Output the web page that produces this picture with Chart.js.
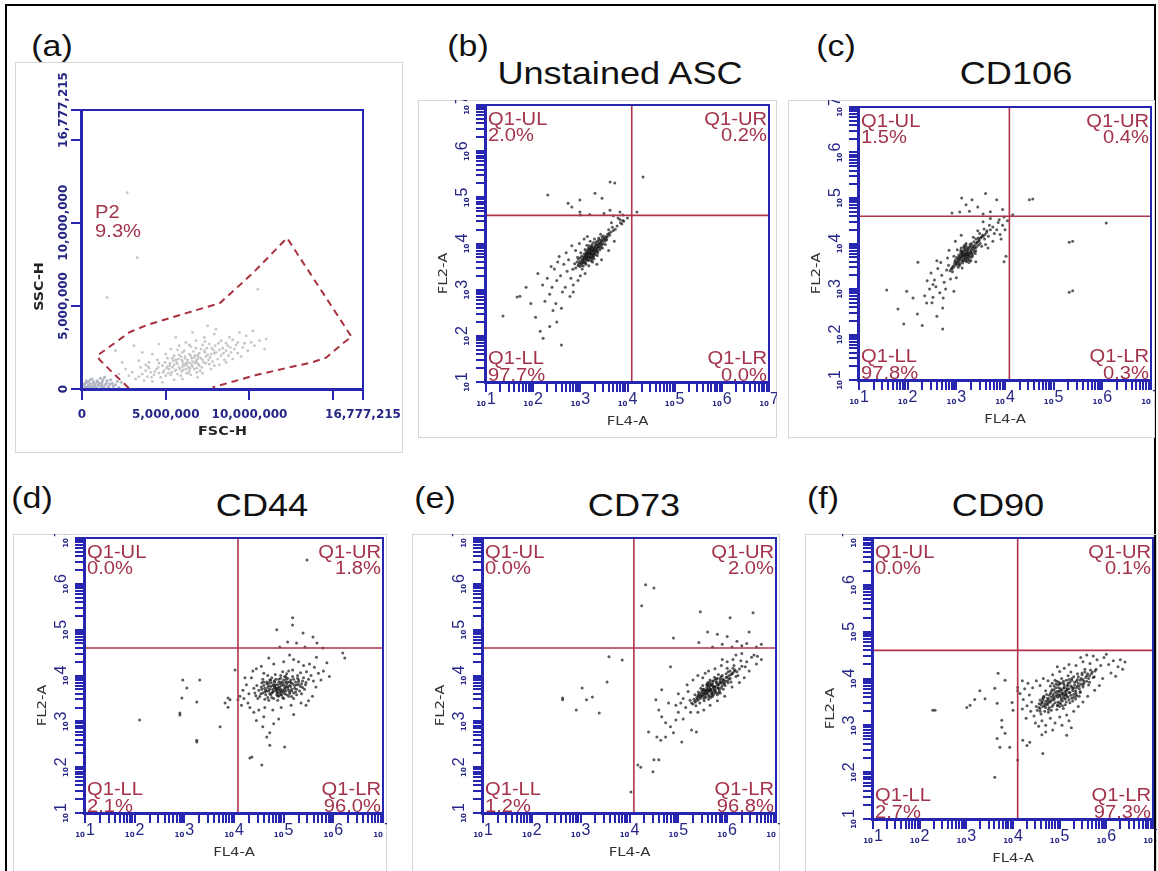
<!DOCTYPE html>
<html>
<head>
<meta charset="utf-8">
<script src="https://cdn.jsdelivr.net/npm/chart.js@4.4.1/dist/chart.umd.min.js"></script>
<style>
  body { margin: 0; width: 1158px; height: 871px; background: #fff; position: relative; overflow: hidden;
         font-family: "Liberation Sans", Arial, sans-serif; }
  #border { position: absolute; left: 5px; top: 4px; width: 1151px; height: 900px; border: 2px solid #000; box-sizing: border-box; }
  .frame { position: absolute; border: 1px solid #d6d6d6; box-sizing: border-box; }
  .frame.open { border-bottom: none; }
  canvas { position: absolute; }
  .tag, .title { position: absolute; white-space: nowrap; color: #111; line-height: 1;
                 transform: translate(-50%, -50%) scaleX(1.13); }
  .tag { font-size: 30px; }
  .title { font-size: 32px; }
</style>
</head>
<body>
<div id="border"></div>
<script>
// ---- data ----
const decades = [1, 2, 3, 4, 5, 6, 7];
const fscTicks = [0, 5e6, 1e7, 1.5e7, 16777215];
const fscTickLabels = ['0', '5,000,000', '10,000,000', '', '16,777,215'];

const panelTags = ['(a)', '(b)', '(c)', '(d)', '(e)', '(f)'];
const panelTitles = ['', 'Unstained ASC', 'CD106', 'CD44', 'CD73', 'CD90'];

// quadrant gates, log10 units
const gateFL4 = [4.09, 4.09, 4.08, 4.09, 4.10];
const gateFL2 = [4.61, 4.60, 4.60, 4.60, 4.60];
const pctUL = ['2.0%', '1.5%', '0.0%', '0.0%', '0.0%'];
const pctUR = ['0.2%', '0.4%', '1.8%', '2.0%', '0.1%'];
const pctLL = ['97.7%', '97.8%', '2.1%', '1.2%', '2.7%'];
const pctLR = ['0.0%', '0.3%', '96.0%', '96.8%', '97.3%'];

// P2 gate on FSC-H / SSC-H, millions
const gateFsc = [2.8, 1.85, 1.07, 0.9, 2.87, 3.88, 6.45, 8.24, 10.2, 12.24, 16.1, 15.6, 14.6, 13.8, 12.2, 10.4, 7.8];
const gateSsc = [0.05, 0.96, 1.74, 2.0, 3.43, 3.85, 4.63, 5.17, 6.97, 9.08, 3.13, 2.77, 1.9, 1.62, 1.26, 0.84, 0.1];
const p2Label = ['P2', '9.3%'];
const p2LabelAt = [0.78, 10.3];

// FSC-H, SSC-H events (millions)
const fscSscEvents = [
  [6.45,1.56],[6.10,1.40],[6.80,1.70],[5.80,1.30],[7.10,1.85],[6.30,1.75],[6.60,1.35],[5.50,1.45],[7.40,1.95],[6.00,1.65],
  [6.95,1.50],[5.20,1.20],[7.70,2.10],[6.20,1.20],[6.70,1.90],[5.65,1.60],[7.25,1.60],[5.95,1.05],[8.00,2.20],[6.50,2.00],
  [5.35,1.00],[7.55,1.75],[6.85,1.25],[6.15,1.85],[4.90,1.10],[8.30,2.00],[5.75,1.80],[7.00,2.15],[6.40,1.10],[4.60,0.95],
  [7.85,2.35],[5.45,1.70],[6.75,1.55],[6.05,1.50],[8.60,2.30],[5.10,1.35],[7.30,2.30],[6.55,1.45],[4.30,0.85],[8.10,1.80],
  [5.90,1.95],[7.60,1.50],[6.25,0.95],[4.80,1.40],[8.85,2.50],[5.60,1.15],[7.15,1.30],[6.90,2.05],[4.45,1.20],[7.95,2.60],
  [5.25,1.55],[6.65,2.25],[5.00,0.80],[8.40,2.45],[6.35,1.30],[7.45,2.45],[5.70,0.90],[4.10,1.00],[8.75,2.00],[6.00,2.20],
  [7.80,1.65],[5.40,1.85],[6.85,1.00],[4.70,0.70],[9.10,2.40],[5.15,0.95],[7.20,2.65],[6.50,0.85],[3.90,0.75],[8.50,1.75],
  [6.30,1.60],[6.60,1.65],[6.00,1.35],[6.90,1.80],[5.70,1.50],[7.20,1.75],[6.45,1.25],[6.15,1.95],[7.00,1.40],[5.85,1.20],
  [6.75,2.00],[5.40,1.30],[7.50,2.05],[6.25,1.45],[6.55,1.85],[5.95,1.75],[7.35,2.20],[6.05,1.15],[6.85,1.60],[5.55,1.10],
  [7.65,1.90],[6.40,2.10],[5.25,1.40],[7.10,2.40],[6.70,1.20],[5.80,2.05],[7.90,2.15],[6.20,1.55],[5.05,1.25],[8.20,2.35],
  [6.95,1.95],[5.60,1.75],[7.40,1.55],[6.35,0.95],[4.85,1.00],[8.45,2.15],[6.10,2.30],[7.75,2.45],[5.30,0.85],[6.80,2.45],
  [4.55,1.30],[8.70,2.60],[5.90,0.80],[7.05,1.10],[6.50,2.55],[4.95,1.60],[8.90,2.20],[5.50,2.00],[7.60,2.70],[4.35,1.05],
  [3.60,0.90],[3.80,1.10],[4.00,1.25],[4.15,0.70],[3.40,0.75],[9.20,2.65],[9.00,2.95],[8.15,2.75],[7.35,2.85],[6.40,2.65],
  [5.70,2.35],[5.10,1.85],[4.60,1.55],[3.95,1.35],[9.70,2.75],[10.10,2.80],[9.30,2.15],[8.60,1.60],[7.90,1.40],[7.20,0.95],
  [3.20,0.60],[3.50,1.30],[3.00,1.00],[3.70,0.50],[2.80,0.80],[3.40,1.70],[4.00,1.60],[4.20,0.45],[3.80,1.45],[2.60,1.20],
  [4.50,1.75],[5.00,2.10],[5.30,2.40],[5.80,2.60],[6.20,2.80],[6.80,2.90],[7.30,3.10],[7.90,3.30],[8.30,2.90],[8.80,3.10],
  [9.30,2.80],[9.60,2.50],[9.90,2.30],[10.30,2.60],[10.60,2.90],[9.40,3.40],[9.00,1.80],[9.50,1.95],[8.20,1.45],[7.70,1.20],
  [6.90,0.70],[6.00,0.60],[5.50,0.55],[4.80,0.40],[4.20,2.10],[3.60,2.20],[2.40,1.60],[2.20,0.90],[2.00,2.30],[10.90,2.40],
  [8.00,3.60],[7.50,3.80],[6.60,3.40],[5.60,3.10],[4.60,2.70],[9.80,3.20],[10.20,3.50],[8.60,2.75],[3.10,2.60],[11.00,3.00],
  [2.70,11.8],[3.30,7.90],[10.5,6.00],[1.50,5.50]
];
const debrisEvents = [
  [0.20,0.10],[0.40,0.25],[0.60,0.15],[0.30,0.40],[0.80,0.30],[1.00,0.20],[0.50,0.55],[1.20,0.40],[0.70,0.05],[1.40,0.25],
  [0.90,0.50],[1.60,0.15],[0.15,0.30],[1.10,0.65],[1.80,0.35],[0.35,0.08],[1.30,0.10],[2.00,0.25],[0.65,0.35],[1.50,0.50],
  [2.20,0.10],[0.85,0.12],[1.70,0.55],[0.45,0.20],[1.05,0.35],[1.90,0.05],[0.25,0.50],[1.35,0.70],[2.35,0.40],[0.55,0.05],
  [0.30,0.15],[0.50,0.30],[0.75,0.20],[0.95,0.40],[1.15,0.15],[1.25,0.55],[0.40,0.45],[0.60,0.60],[1.45,0.35],[1.65,0.30],
  [0.10,0.20],[0.80,0.08],[1.00,0.28],[1.85,0.20],[2.10,0.45],[0.20,0.35],[0.70,0.45],[1.55,0.08],[0.45,0.10],[1.20,0.25]
];

// FL4-A, FL2-A events as log10 values
const unstainedEvents = [
  [3.21,3.80],[3.15,3.76],[3.26,3.84],[3.18,3.71],[3.30,3.88],[3.09,3.70],[3.24,3.92],[3.35,3.90],[3.12,3.82],[3.05,3.64],
  [3.28,3.78],[3.19,3.86],[3.38,3.96],[3.02,3.58],[3.22,3.69],[3.33,3.99],[3.14,3.66],[3.42,4.02],[2.97,3.55],[3.27,3.73],
  [3.17,3.90],[3.36,3.84],[3.08,3.77],[3.45,4.08],[2.93,3.60],[3.31,3.95],[3.23,3.62],[3.11,3.59],[3.40,3.92],[3.50,4.10],
  [3.00,3.69],[3.25,3.98],[3.13,3.74],[3.29,3.67],[3.06,3.51],[3.48,4.00],[3.20,3.88],[3.37,4.06],[2.90,3.47],[3.16,3.63],
  [3.55,4.15],[3.03,3.73],[3.34,3.82],[3.44,3.95],[2.96,3.66],[3.10,3.87],[3.58,4.20],[3.26,3.60],[3.39,4.12],[3.19,3.95],
  [2.88,3.56],[3.62,4.18],[3.07,3.62],[3.32,3.76],[3.46,4.14],[3.14,3.96],[2.99,3.50],[3.52,4.05],[3.23,3.86],[3.65,4.25],
  [3.01,3.80],[3.41,3.86],[3.28,4.02],[3.70,4.28],[2.84,3.44],[3.12,3.55],[3.56,4.08],[3.36,3.74],[3.68,4.35],[3.74,4.31],
  [3.04,3.45],[3.47,3.90],[3.21,4.05],[2.94,3.70],[3.60,4.30],[3.78,4.38],[3.43,4.20],[3.18,3.52],[3.30,4.10],[3.53,3.98],
  [3.22,3.78],[3.17,3.82],[3.27,3.86],[3.13,3.72],[3.32,3.92],[3.08,3.66],[3.20,3.74],[3.25,3.70],[3.15,3.79],[3.29,3.84],
  [3.11,3.68],[3.35,3.97],[3.19,3.77],[3.24,3.81],[3.06,3.60],[3.38,3.93],[3.14,3.71],[3.30,3.79],[3.21,3.85],[3.04,3.57],
  [3.41,3.99],[3.16,3.68],[3.26,3.89],[3.10,3.75],[3.33,3.86],[3.23,3.75],[3.01,3.62],[3.44,4.04],[3.18,3.80],[3.28,3.72],
  [3.12,3.64],[3.36,3.88],[3.20,3.70],[3.47,4.06],[3.09,3.58],[3.31,3.83],[3.24,3.94],[2.98,3.59],[3.39,4.00],[3.15,3.86],
  [3.51,4.12],[3.27,3.76],[3.05,3.67],[3.43,3.90],[3.19,3.64],[3.34,4.03],[3.54,4.09],[3.02,3.53],[3.37,3.80],[3.22,3.90],
  [3.57,4.14],[3.13,3.79],[3.46,3.98],[3.29,3.91],[2.95,3.52],[3.61,4.22],[3.25,3.66],[3.40,4.08],[3.07,3.71],[3.49,4.16],
  [2.72,3.40],[2.65,3.55],[2.80,3.25],[2.58,3.30],[2.75,3.65],[2.50,3.20],[2.68,3.05],[2.85,3.10],[2.45,3.45],[2.62,2.95],
  [2.40,3.05],[2.90,3.85],[2.55,3.72],[3.00,3.30],[2.78,2.85],[2.35,2.90],[2.95,3.20],[3.10,3.35],[2.70,3.80],[2.48,2.70],
  [2.30,3.25],[2.60,2.60],[2.85,2.95],[3.15,4.15],[2.98,4.00],[3.85,4.45],[3.72,4.05],[3.90,4.50],[3.60,3.85],[3.45,3.65],
  [2.25,2.75],[2.52,3.60],[2.42,2.55],[3.08,4.10],[3.80,4.55],[3.66,4.45],[2.20,3.10],[2.82,3.95],[2.38,3.50],[3.35,3.55],
  [1.66,2.84],[1.72,2.86],[1.36,2.43],[2.21,1.95],[2.05,2.40],[1.95,2.70],[2.15,2.10],[2.35,2.20],[2.10,3.35],[1.85,3.05],
  [2.50,2.30],[2.60,1.80],
  [2.31,5.05],[3.63,5.33],[4.33,5.44],[2.99,4.94],[2.74,4.87],[3.31,5.09],[3.46,4.98],[3.73,5.31],[2.99,4.68],[2.82,4.79],
  [3.63,4.72],[3.84,4.68],[4.20,4.68],[3.00,4.62],[3.20,4.63],[3.50,4.65],[3.70,4.60],[3.90,4.62],[3.84,4.52],[3.92,4.48],
  [4.00,4.55],[3.88,4.42]
];
const cd106Events = [
  [3.17,3.75],[3.12,3.70],[3.22,3.80],[3.08,3.72],[3.25,3.74],[3.15,3.83],[3.20,3.66],[3.03,3.62],[3.30,3.86],[3.11,3.78],
  [3.27,3.92],[3.00,3.58],[3.19,3.71],[3.34,3.95],[3.06,3.66],[3.23,3.86],[3.14,3.62],[3.38,3.90],[2.96,3.55],[3.29,3.80],
  [3.09,3.84],[3.42,4.02],[3.18,3.90],[2.93,3.50],[3.33,3.76],[3.05,3.75],[3.46,4.08],[3.24,3.68],[2.90,3.45],[3.36,4.04],
  [3.13,3.57],[3.50,4.12],[3.01,3.69],[3.28,3.98],[3.40,3.84],[3.16,3.95],[2.87,3.40],[3.54,4.18],[3.07,3.52],[3.31,3.70],
  [3.21,3.60],[3.45,3.96],[2.98,3.64],[3.58,4.10],[3.35,4.14],[3.10,3.90],[3.62,4.24],[3.26,3.58],[2.84,3.52],[3.48,4.22],
  [3.66,4.16],[3.04,3.48],[3.39,3.78],[3.70,4.30],[3.20,4.00],[2.95,3.72],[3.52,3.94],[3.75,4.36],[3.12,3.46],[3.44,4.28],
  [3.78,4.22],[2.80,3.42],[3.57,4.32],[3.30,3.62],[3.83,4.30],[3.02,3.86],[3.68,4.40],[2.92,3.38],[3.60,3.98],[3.86,4.46],
  [3.16,3.74],[3.21,3.77],[3.13,3.73],[3.19,3.79],[3.24,3.82],[3.10,3.68],[3.27,3.78],[3.14,3.80],[3.22,3.72],[3.07,3.64],
  [3.30,3.83],[3.18,3.68],[3.25,3.88],[3.11,3.75],[3.33,3.90],[3.04,3.60],[3.20,3.85],[3.28,3.74],[3.15,3.66],[3.36,3.93],
  [3.09,3.79],[3.23,3.64],[3.01,3.56],[3.39,3.98],[3.17,3.86],[3.26,3.70],[3.12,3.62],[3.32,3.79],[3.06,3.70],[3.43,4.03],
  [3.20,3.76],[2.99,3.52],[3.29,3.94],[3.14,3.77],[3.47,4.06],[3.08,3.57],[3.35,3.86],[3.22,3.92],[2.94,3.48],[3.41,3.92],
  [3.18,3.62],[3.51,4.14],[3.03,3.67],[3.31,4.00],[3.24,3.76],[3.55,4.16],[3.11,3.84],[3.37,3.82],[2.97,3.60],[3.45,4.12],
  [3.27,3.64],[3.59,4.20],[3.15,3.91],[3.05,3.54],[3.49,4.00],[3.33,3.72],[3.63,4.28],[3.19,3.96],[2.91,3.44],[3.40,4.10],
  [2.70,3.30],[2.62,3.45],[2.75,3.15],[2.55,3.20],[2.68,3.58],[2.58,3.05],[2.78,3.00],[2.48,3.35],[2.82,3.68],[2.66,2.92],
  [2.52,3.10],[2.88,3.22],[2.60,3.62],[2.45,3.00],[2.73,2.80],[3.00,3.25],[2.40,3.18],[2.85,3.85],[3.90,4.20],[3.95,4.40],
  [3.75,4.05],[3.88,4.52],[3.70,4.55],[3.55,4.48],[3.92,4.10],[3.65,3.90],[4.00,4.30],[2.98,4.05],[3.10,4.18],[2.21,3.59],
  [2.35,2.85],[2.50,2.70],[2.95,2.95],[3.40,3.60],[4.02,3.72],[3.98,3.60],
  [1.57,2.98],[1.80,2.56],[1.92,2.23],[2.11,2.80],[2.39,2.69],[2.72,2.12],[2.52,2.82],[2.72,2.58],[2.20,2.45],[2.30,2.20],
  [1.98,2.95],[2.60,2.40],
  [3.11,5.00],[3.32,4.96],[3.44,4.80],[3.83,4.96],[3.07,4.69],[3.27,4.71],[2.91,4.67],[3.55,4.65],[3.70,4.70],[3.95,4.75],
  [3.60,5.10],[3.20,4.85],[4.16,4.63],[3.98,4.58],[4.05,4.50],
  [4.50,4.96],[4.57,4.98],[6.08,4.45],[5.32,4.03],[5.39,4.05],[5.32,2.93],[5.39,2.96]
];
const cd44Events = [
  [4.92,3.75],[4.85,3.70],[5.00,3.80],[4.78,3.78],[5.08,3.72],[4.70,3.66],[4.95,3.86],[5.15,3.84],[4.62,3.72],[4.88,3.62],
  [5.05,3.92],[4.74,3.58],[5.22,3.78],[4.98,3.68],[4.81,3.88],[5.12,3.64],[4.66,3.82],[5.30,3.90],[4.90,3.55],[4.58,3.62],
  [5.18,3.98],[4.76,3.95],[5.02,3.60],[4.84,3.80],[5.26,3.70],[4.55,3.75],[4.94,4.00],[5.10,3.55],[4.68,3.52],[5.36,3.82],
  [4.87,3.72],[5.04,3.76],[4.72,3.70],[5.20,3.62],[4.60,3.86],[4.96,3.64],[5.40,3.95],[4.80,3.50],[5.14,3.90],[4.50,3.68],
  [5.06,4.04],[4.64,3.58],[5.32,3.66],[4.90,3.92],[4.75,3.84],[5.24,3.86],[4.52,3.54],[5.00,3.50],[4.83,4.02],[5.45,3.85],
  [4.46,3.78],[5.16,3.70],[4.70,3.46],[5.28,4.00],[4.93,3.82],[5.38,3.74],[4.58,3.92],[5.10,4.10],[4.42,3.62],[5.50,3.92],
  [4.86,3.58],[5.08,3.86],[4.62,3.48],[5.34,4.06],[4.98,4.08],[4.78,3.64],[5.42,3.70],[4.48,3.50],[5.20,3.50],[4.68,4.00],
  [5.55,4.00],[4.40,3.72],[5.02,3.70],[4.88,3.46],[5.26,3.58],[4.72,3.90],[5.46,4.08],[4.56,3.84],[5.12,3.78],[4.94,3.58],
  [5.60,3.88],[4.82,3.74],[5.18,4.12],[4.66,3.66],[5.36,3.60],[4.44,3.56],[5.04,3.98],[4.76,3.52],[5.30,3.80],[4.90,3.68],
  [4.90,3.74],[4.96,3.78],[4.84,3.72],[5.02,3.74],[4.80,3.66],[4.94,3.70],[5.06,3.82],[4.88,3.80],[4.98,3.84],[4.74,3.76],
  [5.10,3.68],[4.86,3.64],[5.00,3.90],[4.78,3.70],[5.14,3.76],[4.92,3.62],[4.70,3.78],[5.04,3.66],[4.82,3.86],[5.18,3.82],
  [4.96,3.58],[4.64,3.68],[5.08,3.94],[4.76,3.62],[5.22,3.72],[4.90,3.86],[5.12,3.60],[4.68,3.74],[5.00,3.64],[4.84,3.92],
  [5.26,3.80],[4.72,3.60],[4.94,3.94],[5.16,3.66],[4.60,3.78],[5.06,3.58],[4.80,3.80],[5.30,3.86],[4.88,3.56],[5.20,3.92],
  [4.66,3.86],[5.02,3.98],[4.98,3.52],[5.34,3.76],[4.56,3.70],[5.12,3.86],[4.86,3.68],[5.24,3.64],[4.74,3.90],[5.38,3.88],
  [4.62,3.64],[5.08,3.76],[4.82,3.76],[5.28,3.94],[4.94,3.66],[4.54,3.60],[5.16,3.54],[4.70,3.84],[5.44,3.80],[5.04,3.86],
  [4.30,3.60],[4.25,3.80],[4.35,3.95],[4.20,3.50],[4.38,4.10],[4.28,3.40],[4.32,3.30],[4.45,4.15],[4.55,4.20],[4.62,3.30],
  [4.50,3.25],[5.65,3.75],[5.70,4.05],[5.75,3.90],[5.62,4.18],[5.80,4.10],[5.52,4.25],[5.40,4.22],[5.30,4.30],[5.20,4.35],
  [5.58,3.55],[5.50,3.45],[5.35,3.40],[5.15,3.35],[4.95,3.30],[4.78,3.25],[4.18,3.68],[4.22,3.95],[5.87,4.28],[5.00,4.30],
  [4.80,4.25],[5.66,4.40],[4.70,4.38],[5.12,4.45],[4.60,4.05],[5.45,3.35],[4.40,3.20],[4.12,3.55],[4.15,3.35],[5.92,3.98],
  [4.58,2.88],[4.72,2.75],[4.66,2.66],[4.72,2.48],[5.02,2.44],[4.36,2.22],[4.56,2.05],[4.32,2.20],[4.60,3.10],[4.80,2.95],
  [4.90,3.05],[5.20,3.15],[4.45,3.02],
  [4.86,5.00],[5.18,5.10],[5.39,4.93],[5.08,4.73],[5.26,4.71],[5.59,4.84],[5.67,4.71],[4.92,4.62],[5.43,4.62],[5.79,4.60],
  [6.19,4.49],[6.23,4.38],[5.18,5.26],[5.47,6.52],
  [2.10,3.03],[3.25,2.59],[2.91,3.18],[3.72,2.88],[3.92,3.47],[2.97,3.90],[3.05,3.73],[2.95,3.51],[3.31,3.90],[3.25,3.42],
  [2.91,3.14],[3.88,3.51],[3.88,3.31],[3.82,3.40],[4.02,4.12],[4.08,3.47],[3.25,2.55]
];
const cd73Events = [
  [5.67,3.69],[5.60,3.64],[5.74,3.75],[5.55,3.68],[5.80,3.72],[5.62,3.58],[5.70,3.82],[5.50,3.55],[5.85,3.86],[5.58,3.74],
  [5.76,3.62],[5.45,3.50],[5.92,3.90],[5.64,3.78],[5.52,3.62],[5.82,3.80],[5.40,3.46],[5.98,3.96],[5.68,3.60],[5.72,3.88],
  [5.48,3.66],[5.88,3.74],[5.35,3.42],[6.04,4.00],[5.56,3.52],[5.78,3.92],[5.66,3.70],[5.94,3.82],[5.42,3.58],[6.10,4.04],
  [5.60,3.84],[5.84,3.66],[5.30,3.38],[6.00,3.88],[5.53,3.45],[5.75,3.68],[6.15,4.10],[5.46,3.72],[5.90,4.00],[5.63,3.66],
  [5.38,3.52],[6.06,3.94],[5.70,3.54],[5.86,3.94],[5.27,3.40],[6.20,4.08],[5.58,3.80],[5.96,3.78],[5.44,3.40],[6.12,4.16],
  [5.72,3.76],[5.34,3.58],[6.02,4.08],[5.50,3.78],[5.80,3.58],[6.25,4.14],[5.65,3.90],[5.36,3.34],[6.08,3.86],[5.78,3.84],
  [5.52,3.70],[6.30,4.20],[5.62,3.48],[5.92,3.70],[5.41,3.64],[6.18,3.98],[5.74,3.96],[5.32,3.48],[6.37,4.19],[5.86,3.62],
  [5.57,3.60],[6.00,4.16],[5.68,3.80],[5.90,3.86],[5.46,3.56],[6.14,4.22],[5.82,4.02],[5.24,3.46],[6.22,4.00],[5.66,3.52],
  [5.66,3.68],[5.71,3.73],[5.62,3.66],[5.76,3.76],[5.58,3.62],[5.69,3.78],[5.64,3.72],[5.80,3.80],[5.54,3.60],[5.73,3.66],
  [5.60,3.70],[5.84,3.82],[5.68,3.64],[5.50,3.58],[5.78,3.86],[5.63,3.76],[5.88,3.84],[5.56,3.66],[5.74,3.70],[5.46,3.54],
  [5.92,3.92],[5.70,3.62],[5.60,3.78],[5.82,3.74],[5.52,3.50],[5.96,3.88],[5.66,3.82],[5.77,3.64],[5.42,3.52],[6.00,3.96],
  [5.58,3.68],[5.86,3.90],[5.72,3.58],[5.48,3.62],[6.04,3.92],[5.64,3.86],[5.90,3.78],[5.38,3.48],[5.80,3.94],[5.55,3.56],
  [6.08,4.02],[5.70,3.88],[5.84,3.70],[5.44,3.60],[5.98,4.04],[5.62,3.54],[5.94,3.84],[5.34,3.44],[6.12,4.06],[5.76,3.92],
  [5.50,3.70],[6.02,3.84],[5.68,3.56],[5.88,3.98],[5.40,3.56],[6.16,4.12],[5.60,3.82],[5.82,3.62],[6.06,4.10],[5.52,3.66],
  [5.15,3.30],[5.10,3.50],[5.20,3.65],[5.05,3.40],[5.25,3.20],[5.18,3.80],[5.30,3.90],[5.40,4.00],[5.50,3.95],[5.62,4.10],
  [5.75,4.15],[5.88,4.22],[6.00,4.30],[6.12,4.35],[6.28,4.32],[6.40,4.30],[6.45,4.10],[6.50,4.40],[6.35,3.95],[6.25,3.85],
  [6.10,3.75],[5.95,3.55],[5.80,3.45],[5.65,3.35],[5.52,3.25],[5.40,3.20],[6.60,4.25],[6.55,4.45],[6.30,4.48],[5.90,4.35],
  [5.55,4.05],[6.62,4.42],[5.00,3.60],[4.95,3.35],[6.70,4.35],[6.18,4.45],
  [4.39,2.77],[4.56,2.66],[4.64,2.59],[4.74,2.66],[4.90,2.75],[4.84,2.88],[5.07,2.55],[4.95,3.03],[4.74,2.97],[4.66,3.10],
  [4.60,3.25],[4.54,3.47],[4.66,3.69],[4.84,4.19],[5.27,2.81],[5.37,2.77],[4.17,2.05],[4.48,1.90],[4.60,2.16],[5.00,3.20],
  [4.80,3.40],[5.10,3.05],
  [4.33,5.98],[4.50,5.91],[4.25,5.52],[5.45,5.39],[6.06,5.26],[6.53,5.37],[4.90,4.82],[5.60,4.95],[5.80,4.90],[6.00,4.85],
  [6.20,4.75],[6.40,4.70],[5.90,4.68],[6.30,4.65],[5.70,4.62],[6.60,4.62],[6.10,4.62],[5.42,4.72],[6.45,4.95],[6.70,4.68],
  [3.58,4.41],[3.85,4.34],[2.63,3.47],[3.03,3.73],[2.91,3.25],[3.38,3.18],[3.54,3.86],[3.24,3.53],[3.12,3.47],[4.23,2.00],
  [4.50,2.16],[4.03,1.46],[2.63,3.51]
];
const cd90Events = [
  [5.07,3.68],[5.00,3.62],[5.14,3.74],[4.94,3.66],[5.20,3.70],[4.88,3.55],[5.10,3.80],[4.82,3.60],[5.26,3.82],[4.98,3.72],
  [5.16,3.62],[4.76,3.48],[5.32,3.86],[5.04,3.58],[4.90,3.70],[5.22,3.92],[4.70,3.52],[5.38,3.84],[5.02,3.78],[4.86,3.44],
  [5.28,3.74],[4.64,3.40],[5.44,3.96],[5.12,3.66],[4.80,3.68],[5.34,3.70],[4.96,3.50],[5.18,3.86],[4.58,3.36],[5.50,3.98],
  [4.92,3.80],[5.06,3.52],[4.74,3.58],[5.40,4.04],[5.24,3.64],[4.68,3.30],[5.56,4.02],[4.84,3.76],[5.00,3.88],[5.30,3.60],
  [4.62,3.50],[5.46,3.88],[5.14,3.96],[4.78,3.38],[5.36,3.94],[4.95,3.42],[5.60,4.10],[4.72,3.66],[5.20,3.54],[5.08,3.90],
  [4.52,3.32],[5.52,3.90],[4.88,3.84],[5.42,3.78],[5.02,3.46],[4.66,3.60],[5.64,4.06],[5.26,4.00],[4.82,3.32],[5.34,3.56],
  [4.56,3.46],[5.48,4.12],[5.10,3.58],[4.98,3.92],[5.70,4.14],[4.74,3.44],[5.16,3.78],[4.60,3.24],[5.38,4.10],[5.22,3.48],
  [4.86,3.62],[5.58,3.94],[4.94,3.34],[5.30,3.80],[4.70,3.74],[5.66,4.18],[5.04,4.00],[4.50,3.40],[5.44,3.70],[5.12,3.44],
  [4.80,3.52],[5.74,4.04],[4.90,3.96],[5.28,3.52],[4.64,3.58],[5.54,4.20],[5.18,4.06],[4.76,3.28],[5.36,3.66],[5.00,3.40],
  [4.68,3.46],[5.62,3.86],[4.96,3.86],[5.42,3.62],[4.58,3.54],[5.78,4.20],[5.08,3.36],[4.84,3.90],[5.50,3.82],[5.24,4.14],
  [5.06,3.67],[5.11,3.72],[5.01,3.64],[5.16,3.76],[4.96,3.60],[5.09,3.80],[5.04,3.70],[5.20,3.78],[4.92,3.62],[5.13,3.64],
  [5.00,3.74],[5.24,3.84],[4.88,3.58],[5.08,3.62],[5.18,3.90],[4.84,3.54],[5.28,3.78],[4.98,3.80],[5.14,3.68],[4.80,3.50],
  [5.32,3.92],[5.03,3.54],[4.94,3.72],[5.22,3.70],[4.76,3.56],[5.36,3.80],[5.10,3.86],[4.90,3.48],[5.26,3.96],[4.72,3.46],
  [5.40,3.90],[5.05,3.76],[4.86,3.66],[5.30,3.66],[4.68,3.42],[5.46,4.00],[5.12,3.56],[4.82,3.72],[5.20,3.98],[4.64,3.54],
  [5.52,3.94],[5.00,3.48],[4.92,3.88],[5.34,3.74],[4.60,3.44],[5.58,4.06],[5.16,3.84],[4.78,3.64],[5.42,3.84],[4.56,3.38],
  [5.62,4.00],[5.08,3.94],[4.74,3.52],[5.26,3.58],[4.98,3.66],[5.48,4.08],[4.70,3.38],[5.38,3.98],[5.02,3.90],[4.88,3.76],
  [5.68,4.10],[5.14,3.50],[4.66,3.62],[5.44,3.72],[4.96,3.44],[5.54,4.14],[4.80,3.84],[5.30,4.04],[4.62,3.48],[5.72,4.02],
  [5.18,3.60],[4.84,3.40],[5.50,3.86],[4.94,3.94],[5.36,3.62],[4.58,3.30],[5.76,4.16],[5.06,3.42],[5.64,3.92],[4.76,3.34],
  [4.40,3.50],[4.45,3.20],[4.35,3.65],[4.48,3.05],[4.38,3.30],[4.30,3.42],[4.55,2.98],[4.42,3.80],[4.32,3.90],[4.28,3.15],
  [4.62,3.10],[4.70,3.00],[4.80,3.15],[4.58,3.85],[4.50,3.95],[4.65,4.00],[4.75,3.95],[4.85,4.08],[5.00,4.15],[4.95,4.25],
  [5.10,4.22],[5.20,4.30],[5.35,4.28],[5.50,4.36],[5.65,4.32],[5.80,4.40],[5.95,4.45],[6.05,4.30],[6.15,4.38],[6.25,4.25],
  [6.35,4.20],[6.20,4.05],[6.10,4.12],[5.92,4.00],[5.85,3.85],[5.75,3.75],[5.60,3.62],[5.50,3.50],[5.40,3.40],[5.30,3.30],
  [5.15,3.22],[5.00,3.18],[4.90,3.05],[4.85,2.90],[4.70,2.86],[5.05,3.00],[5.20,3.10],[5.88,4.28],[6.00,4.52],[5.72,4.48],
  [5.45,4.45],[6.30,4.40],[4.22,3.55],[4.25,3.78],[4.20,3.95],[5.58,4.50],[6.40,4.35],[5.25,2.95],[4.62,2.80],[4.20,3.35],
  [3.98,3.49],[4.00,3.32],[3.76,3.11],[3.76,2.96],[3.83,2.83],[3.93,2.53],[3.72,2.53],[3.66,2.72],[4.10,3.74],[4.10,3.81],
  [4.15,3.68],[4.21,2.68],[4.36,2.64],[4.64,2.40],[4.10,2.26],[3.61,1.89],[5.15,2.79],[4.30,2.57],
  [3.01,3.38],[3.18,3.55],[3.29,3.74],[3.40,3.57],[3.66,3.47],[3.68,4.11],[3.83,3.96],[3.61,3.79],[2.33,3.32],[3.08,3.43],
  [2.28,3.32]
];

// ---- styling / layout ----
const AXIS = '#2626b0';
const AXIS_TEXT = '#262687';
const GATE = '#b0334b';
const INK = '#a3334a';
const DOT = 'rgba(22,22,22,0.7)';

const frameA = { left: 15, top: 62, w: 388, h: 391, yW: 67, xH: 64, padT: 48, padR: 40 };
const logFrames = [
  { left: 418, top: 100, w: 359, h: 338, yW: 68, xH: 56, padT: 5, padR: 8 },
  { left: 788, top: 100, w: 367, h: 338, yW: 71, xH: 58, padT: 7, padR: 3 },
  { left: 13, top: 534, w: 374, h: 337, yW: 72, xH: 58, padT: 4, padR: 4, open: true },
  { left: 412, top: 534, w: 368, h: 337, yW: 71, xH: 58, padT: 4, padR: 2, open: true },
  { left: 805, top: 534, w: 352, h: 337, yW: 68, xH: 52, padT: 3, padR: 4, open: true }
];
const tagAt = [[52, 46], [468, 46], [836, 46], [32, 498], [435, 498], [823, 498]];
const titleAt = [null, [620, 73], [1016, 73], [262, 505], [634, 505], [998, 505]];
const logEvents = [unstainedEvents, cd106Events, cd44Events, cd73Events, cd90Events];

const logTicks = [];
decades.slice(0, -1).forEach(n => { for (let k = 1; k < 10; k++) logTicks.push(k * Math.pow(10, n)); });
logTicks.push(Math.pow(10, decades[decades.length - 1]));

function mount(f) {
  const frame = document.createElement('div');
  frame.className = 'frame' + (f.open ? ' open' : '');
  Object.assign(frame.style, { left: f.left + 'px', top: f.top + 'px', width: f.w + 'px', height: f.h + 'px' });
  document.body.appendChild(frame);
  const cv = document.createElement('canvas');
  cv.width = f.w; cv.height = f.h;
  Object.assign(cv.style, { left: f.left + 'px', top: f.top + 'px' });
  document.body.appendChild(cv);
  return cv;
}

function addText(cls, str, at) {
  const el = document.createElement('div');
  el.className = cls;
  el.textContent = str;
  el.style.left = at[0] + 'px';
  el.style.top = at[1] + 'px';
  document.body.appendChild(el);
}

function stretched(ctx, str, x, y, align, sx) {
  ctx.save();
  ctx.translate(x, y);
  ctx.scale(sx, 1);
  ctx.textAlign = align;
  ctx.fillText(str, 0, 0);
  ctx.restore();
}

// tiny "10" followed by a big exponent digit, centred on cx
function power(ctx, exp, cx, base) {
  ctx.font = 'bold 7px "DejaVu Sans"';
  const w1 = ctx.measureText('10').width;
  ctx.font = '16px "Liberation Sans"';
  const w2 = ctx.measureText(exp).width;
  const x0 = cx - (w1 + w2 + 1) / 2;
  ctx.textAlign = 'left';
  ctx.font = 'bold 7px "DejaVu Sans"';
  ctx.fillText('10', x0, base);
  ctx.font = '16px "Liberation Sans"';
  ctx.fillText(exp, x0 + w1 + 1, base - 2);
}

function rotated(ctx, x, y, fn) {
  ctx.save();
  ctx.translate(x, y);
  ctx.rotate(-Math.PI / 2);
  fn();
  ctx.restore();
}

// plot frame plus short outward tick marks at the given axis values
function frameAndTicks(ctx, a, xs, ys, values, len, w) {
  const L = Math.round(a.left), R = Math.round(a.right), T = Math.round(a.top), B = Math.round(a.bottom);
  ctx.fillStyle = AXIS;
  ctx.fillRect(L - 2, T - 1, R - L + 3, 2);
  ctx.fillRect(R - 1, T - 1, 2, B - T + 2);
  ctx.fillRect(L - 2, T - 1, 3, B - T + 3);
  ctx.fillRect(L - 2, B - 1, R - L + 3, 3);
  values.forEach(v => {
    const px = Math.round(xs.getPixelForValue(v));
    const py = Math.round(ys.getPixelForValue(v));
    ctx.fillRect(px - 1, B + 2, w, len);
    ctx.fillRect(L - 2 - len, py - 1, len, w);
  });
}

const quadText = {
  id: 'quadText',
  afterDraw(chart, args, o) {
    const { ctx, chartArea: a, scales: { x, y } } = chart;
    ctx.save();
    frameAndTicks(ctx, a, x, y, logTicks, 8, 2);
    ctx.fillStyle = AXIS_TEXT;
    ctx.textBaseline = 'alphabetic';
    decades.forEach(n => {
      power(ctx, String(n), x.getPixelForValue(Math.pow(10, n)), a.bottom + 24);
      rotated(ctx, a.left - 17, y.getPixelForValue(Math.pow(10, n)), () => power(ctx, String(n), 0, 0));
    });
    ctx.fillStyle = '#333';
    ctx.font = '13px "DejaVu Sans"';
    stretched(ctx, 'FL4-A', (a.left + a.right) / 2, a.bottom + 43, 'center', 1.15);
    rotated(ctx, a.left - 39, (a.top + a.bottom) / 2 + 30, () => stretched(ctx, 'FL2-A', 0, 0, 'center', 1.15));
    ctx.fillStyle = INK;
    ctx.font = '18px "Liberation Sans"';
    stretched(ctx, 'Q1-UL', a.left + 2, a.top + 20, 'left', 1.12);
    stretched(ctx, o.ul, a.left + 2, a.top + 36, 'left', 1.12);
    stretched(ctx, 'Q1-UR', a.right - 2, a.top + 20, 'right', 1.12);
    stretched(ctx, o.ur, a.right - 2, a.top + 36, 'right', 1.12);
    stretched(ctx, 'Q1-LL', a.left + 2, a.bottom - 18, 'left', 1.12);
    stretched(ctx, o.ll, a.left + 2, a.bottom - 1, 'left', 1.12);
    stretched(ctx, 'Q1-LR', a.right - 2, a.bottom - 18, 'right', 1.12);
    stretched(ctx, o.lr, a.right - 2, a.bottom - 1, 'right', 1.12);
    ctx.restore();
  }
};

const gateText = {
  id: 'gateText',
  afterDraw(chart) {
    const { ctx, chartArea: a, scales: { x, y } } = chart;
    ctx.save();
    frameAndTicks(ctx, a, x, y, fscTicks, 9, 2);
    ctx.fillStyle = AXIS_TEXT;
    ctx.font = 'bold 12px "DejaVu Sans"';
    fscTicks.forEach((v, i) => {
      if (!fscTickLabels[i]) return;
      stretched(ctx, fscTickLabels[i], x.getPixelForValue(v), a.bottom + 29, 'center', 1.0);
      rotated(ctx, a.left - 15, y.getPixelForValue(v), () => stretched(ctx, fscTickLabels[i], 0, 0, 'center', 1.0));
    });
    ctx.fillStyle = '#222';
    ctx.font = 'bold 13px "DejaVu Sans"';
    stretched(ctx, 'FSC-H', (a.left + a.right) / 2, a.bottom + 46, 'center', 1.1);
    rotated(ctx, a.left - 39, (a.top + a.bottom) / 2 + 37, () => stretched(ctx, 'SSC-H', 0, 0, 'center', 1.1));
    ctx.fillStyle = INK;
    ctx.font = '18px "Liberation Sans"';
    const px = x.getPixelForValue(p2LabelAt[0] * 1e6), py = y.getPixelForValue(p2LabelAt[1] * 1e6);
    stretched(ctx, p2Label[0], px, py, 'left', 1.12);
    stretched(ctx, p2Label[1], px, py + 19, 'left', 1.12);
    ctx.restore();
  }
};

function axis(kind, fit) {
  return Object.assign({
    afterFit: s => { if (s.isHorizontal()) s.height = fit; else s.width = fit; },
    ticks: { display: false },
    grid: { display: false },
    border: { display: false }
  }, kind);
}

const baseOptions = f => ({
  responsive: false,
  animation: false,
  events: [],
  layout: { padding: { left: 0, top: f.padT, right: f.padR, bottom: 0 } },
  plugins: { legend: { display: false }, tooltip: { enabled: false } }
});

// ---- panel (a): FSC-H vs SSC-H with P2 gate ----
(function () {
  const cv = mount(frameA);
  const opts = baseOptions(frameA);
  const lin = { type: 'linear', min: 0, max: 16777215 };
  opts.scales = { x: axis(lin, frameA.xH), y: axis(lin, frameA.yW) };
  new Chart(cv, {
    type: 'scatter',
    data: {
      datasets: [
        {
          data: gateFsc.map((v, i) => ({ x: v * 1e6, y: gateSsc[i] * 1e6 })),
          showLine: true, borderColor: '#a8303f', borderWidth: 2, borderDash: [7, 5], pointRadius: 0, tension: 0
        },
        { data: fscSscEvents.map(([a, b]) => ({ x: a * 1e6, y: b * 1e6 })), pointRadius: 1.4, pointBorderWidth: 0, pointBackgroundColor: '#c6c6c6' },
        { data: debrisEvents.map(([a, b]) => ({ x: a * 1e6, y: b * 1e6 })), pointRadius: 1.5, pointBorderWidth: 0, pointBackgroundColor: '#b0b5c4' }
      ]
    },
    options: opts,
    plugins: [gateText]
  });
})();

// ---- panels (b)-(f): FL4-A vs FL2-A quadrant plots ----
logFrames.forEach((f, i) => {
  const cv = mount(f);
  const opts = baseOptions(f);
  const lg = { type: 'logarithmic', min: 10, max: 1e7 };
  opts.scales = { x: axis(lg, f.xH), y: axis(lg, f.yW) };
  opts.plugins.quadText = { ul: pctUL[i], ur: pctUR[i], ll: pctLL[i], lr: pctLR[i] };
  const gx = Math.pow(10, gateFL4[i]), gy = Math.pow(10, gateFL2[i]);
  new Chart(cv, {
    type: 'scatter',
    data: {
      datasets: [
        { data: [{ x: gx, y: 10 }, { x: gx, y: 1e7 }], showLine: true, borderColor: GATE, borderWidth: 1.6, pointRadius: 0 },
        { data: [{ x: 10, y: gy }, { x: 1e7, y: gy }], showLine: true, borderColor: GATE, borderWidth: 1.6, pointRadius: 0 },
        {
          data: logEvents[i].map(([a, b]) => ({ x: Math.pow(10, a), y: Math.pow(10, b) })),
          pointRadius: 1.5, pointBorderWidth: 0, pointBackgroundColor: DOT
        }
      ]
    },
    options: opts,
    plugins: [quadText]
  });
});

panelTags.forEach((t, i) => addText('tag', t, tagAt[i]));
panelTitles.forEach((t, i) => { if (t) addText('title', t, titleAt[i]); });
</script>
</body>
</html>
